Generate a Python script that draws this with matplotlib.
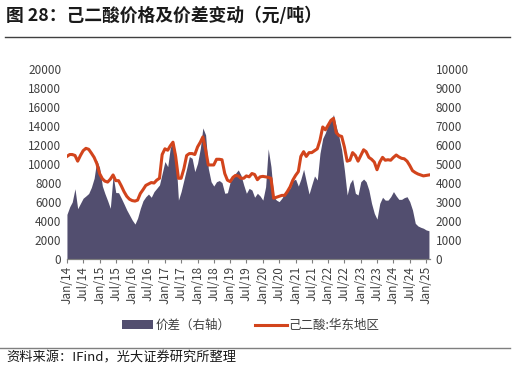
import numpy as np
import pandas as pd
import matplotlib
matplotlib.use("Agg")
import matplotlib.pyplot as plt
from matplotlib.lines import Line2D
from matplotlib.patches import Patch

plt.rcParams['font.family'] = ['Noto Sans CJK SC', 'DejaVu Sans']

# monthly data, Jan 2014 - Feb 2025
months = pd.date_range('2014-01-01', periods=134, freq='MS')

# 价差 (right axis, 元/吨)
spread = [
    2350, 2750, 3000, 3700, 2650, 2930, 3200, 3320, 3450, 3770, 4250, 5200,
    4800, 3840, 3450, 3070, 2670, 4400, 3500, 3490, 3200, 2900, 2580, 2320,
    2050, 1840, 2150, 2670, 3070, 3280, 3420, 3250, 3550, 3720, 3900, 4510,
    5130, 4860, 5830, 6230, 5560, 3100, 3550, 4160, 4770, 5390, 5300, 4600,
    5040, 5830, 6900, 6530, 4770, 4070, 3840, 4070, 4130, 4020, 3460, 3490,
    4070, 4250, 4510, 4690, 4420, 3900, 3460, 3720, 3630, 3250, 3460, 3320,
    3100, 3800, 5800, 4860, 3280, 3100, 3020, 3200, 3460, 3630, 3720, 4130,
    4200, 3840, 4200, 4720, 4070, 3420, 3900, 4370, 4160, 5560, 6350, 6650,
    7100, 7280, 7600, 6970, 6440, 5740, 4690, 3370, 3980, 4200, 3460, 3370,
    4070, 4210, 4070, 3630, 2930, 2400, 2100, 2930, 3250, 3100, 3100, 3280,
    3550, 3320, 3140, 3140, 3230, 3280, 3020, 2580, 1880, 1740, 1670, 1620,
    1530, 1490,
]

# 己二酸:华东地区 (left axis, 元/吨)
price = [
    10800, 11000, 11000, 10900, 10300, 10900, 11400, 11650, 11550, 11150, 10700, 10050,
    9000, 8450, 8200, 8100, 8400, 8850, 8250, 8250, 7700, 7100, 6600, 6300,
    6150, 6100, 6200, 6900, 7300, 7750, 7900, 8050, 8000, 8300, 8500, 11000,
    11600, 11450, 11900, 12300, 10800, 8500, 8500, 9500, 10900, 11100, 11100, 11000,
    11800, 12300, 12850, 11500, 9900, 9900, 9900, 10500, 10500, 10450, 9000, 8300,
    8150, 8600, 8800, 8750, 8500, 8500, 8750, 8650, 9000, 8900, 8350, 8650,
    8700, 8650, 8600, 8500, 6400, 6500, 6600, 6700, 6700, 7100, 7600, 8300,
    8800, 9200, 10800, 11300, 10800, 11200, 11200, 11400, 11600, 12500, 13900, 13600,
    14100, 14600, 14800, 13300, 13000, 12900, 11800, 10300, 10400, 11200, 10900, 10300,
    10900, 11500, 11300, 10700, 10500, 10200, 9400, 10200, 10700, 10400, 10450, 10400,
    10700, 10950, 10750, 10600, 10550, 10300, 9850, 9300, 9100, 8950, 8850, 8750,
    8800, 8850,
]

tick_dates = months[:133:6]
tick_labels = [d.strftime('%b/%y') for d in tick_dates]
left_ticks = list(range(0, 20001, 2000))
right_ticks = list(range(0, 10001, 1000))

area_color = '#524E6F'
line_color = '#D2441C'

fig = plt.figure(figsize=(5.15, 3.69), dpi=100)
ax = fig.add_axes([0.130, 0.298, 0.705, 0.515])
ax2 = ax.twinx()

# spread area on the right axis, price line on the left axis (on top)
ax2.fill_between(months, spread, 0, color=area_color, linewidth=0)
ax.plot(months, price, color=line_color, linewidth=2.2)
ax.set_zorder(ax2.get_zorder() + 1)
ax.patch.set_visible(False)

ax.set_ylim(0, 20000)
ax2.set_ylim(0, 10000)
ax.set_xlim(months[0], months[-1] + pd.Timedelta(days=12))
ax.set_yticks(left_ticks)
ax2.set_yticks(right_ticks)
ax.set_xticks(tick_dates)
ax.set_xticklabels(tick_labels, rotation=90)

for a in (ax, ax2):
    for s in ('top', 'left', 'right'):
        a.spines[s].set_visible(False)
    a.spines['bottom'].set_color('#7F7F7F')
    a.tick_params(axis='y', length=0, labelsize=8.5, colors='#404040', pad=4)
ax.tick_params(axis='x', length=3, color='#7F7F7F', labelsize=8.5,
               labelcolor='#404040', pad=2)

handles = [Patch(facecolor=area_color, edgecolor='none'),
           Line2D([0], [0], color=line_color, linewidth=2.2)]
fig.legend(handles, ['价差（右轴）', '己二酸:华东地区'], loc='center',
           bbox_to_anchor=(0.487, 0.118), ncol=2, frameon=False,
           fontsize=9, handlelength=2.5, handleheight=0.7,
           handletextpad=0.15, columnspacing=2.0, labelcolor='#404040')

fig.text(0.012, 0.958, '图 28：己二酸价格及价差变动（元/吨）', fontsize=12.8,
         fontweight='bold', va='center', ha='left', color='#1A1A1A')
fig.add_artist(Line2D([0.01, 0.99], [0.900, 0.900], color='#404040', linewidth=1.0))
fig.add_artist(Line2D([0.0, 0.99], [0.057, 0.057], color='#7F7F7F', linewidth=1.0))
fig.text(0.012, 0.031, '资料来源：IFind，光大证券研究所整理', fontsize=9.5,
         va='center', ha='left', color='#1A1A1A')

fig.savefig('out.png', dpi=100)
